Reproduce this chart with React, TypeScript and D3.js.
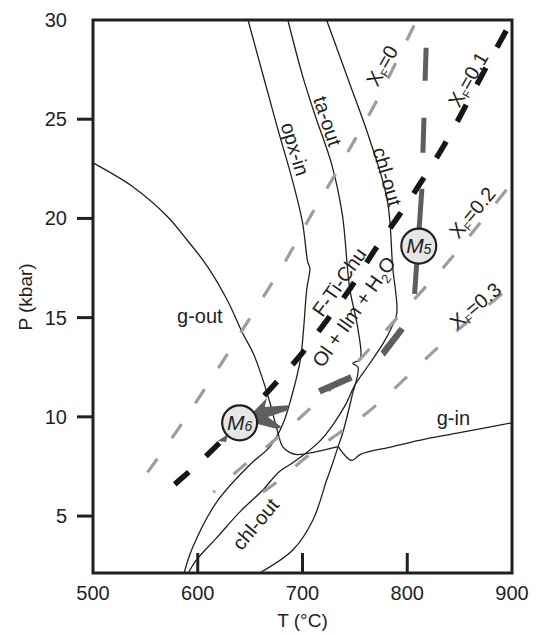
import React, { useEffect, useRef } from "react";
import * as d3 from "d3";

const width = 537;
const height = 633;
const font = "'Liberation Sans', Arial, Helvetica, sans-serif";

// axis ticks
const xTicks = [500, 600, 700, 800, 900];
const yTicks = [5, 10, 15, 20, 25, 30];

// phase boundaries as [T (°C), P (kbar)]
const gOut = [[500, 22.8], [538, 21.6], [571, 20.1], [590, 18.9], [609, 17.6], [628, 15.9], [643, 14.2], [653, 13.2], [662, 11.9], [669, 10.7], [676, 9.3], [681, 8.5], [688, 8.2], [695, 8.1], [734, 8.5]];
const gIn = [[734, 8.5], [747, 7.8], [755, 8.1], [786, 8.5], [819, 8.9], [850, 9.2], [900, 9.7]];
const opxIn = [[648, 30], [664, 26.9], [677, 24.4], [691, 21.8], [700, 19.8], [705, 17.8], [707, 17.5], [704, 16.4], [701, 14.4], [698, 12.9], [690, 11.1], [681, 9.6], [669, 8.5], [650, 7.6], [618, 5.7], [595, 3.4], [587, 2.13]];
const taOut = [[686, 30], [700, 27.2], [712, 25.2], [728, 22.7], [738, 20.2], [745, 16.5], [753, 14.4], [755, 12.9], [748, 12.7], [753, 12.5], [747, 11.0], [739, 9.3], [734, 8.5], [729, 7.7], [723, 6.8], [710, 4.8], [691, 3.3], [659, 2.13]];
const chlOut = [[723, 30], [745, 26.8], [764, 24.0], [781, 20.9], [786, 17.6], [790, 15.2], [785, 14.5], [777, 13.7], [763, 12.6], [750, 11.6], [741, 10.6], [729, 9.6], [717, 8.8], [704, 8.2], [691, 7.7], [677, 7.2], [662, 6.3], [640, 5.2], [618, 3.9], [599, 2.8], [591, 2.13]];

// X_F isopleths
const xf0 = [[552, 7.2], [578, 9.1], [599, 10.8], [623, 12.7], [644, 14.5], [667, 16.4], [688, 18.2], [707, 20.1], [728, 21.9], [748, 23.8], [768, 25.6], [787, 27.6], [809, 30]];
const xf01 = [[578, 6.6], [615, 8.3], [671, 11.5], [699, 13.1], [722, 14.8], [747, 16.5], [768, 18.4], [792, 20.1], [814, 21.9], [836, 23.7], [855, 25.6], [874, 27.5], [900, 30]];
const xf02 = [[615, 6.2], [640, 7.4], [671, 8.7], [701, 10.1], [731, 11.6], [759, 13.1], [785, 14.7], [817, 16.5], [846, 18.2], [870, 19.8], [900, 21.8]];
const xf03 = [[662, 6.2], [681, 6.9], [701, 7.9], [732, 9.1], [767, 10.3], [828, 13.5], [860, 14.9], [900, 16.6]];

// P-T path
const m5 = [811, 18.6];
const m6 = [640, 9.7];
const progradePath = [[818, 28.6], [815, 23.4], [814, 21.5], [807, 16.2]];
const retroPath = [[807, 16.2], [796, 14.5], [777, 13.2], [747, 12.0], [717, 11.3], [688, 10.5]];
const m6Arrow = [[653, 10.24], [666, 10.95], [664, 10.49], [686, 10.59], [687, 10.34], [667, 9.99], [680, 9.49], [676, 9.39], [657, 9.64]];
const m6Tip = [[619, 8.78], [629, 9.13], [627, 8.73]];

const labels = [
  { t: "g-out", T: 602, P: 15.08, r: 0 },
  { t: "g-in", T: 844, P: 9.94, r: 0 },
  { t: "opx-in", T: 693, P: 23.5, r: 73 },
  { t: "ta-out", T: 724, P: 24.9, r: 72 },
  { t: "chl-out", T: 781, P: 22.1, r: 74 },
  { t: "chl-out", T: 655, P: 4.6, r: -50 },
  { t: "F-Ti-Chu", T: 735, P: 16.8, r: -55 },
];
const xfLabels = [
  { v: "0", T: 776, P: 27.7, r: -60 },
  { v: "0.1", T: 858, P: 27.0, r: -60 },
  { v: "0.2", T: 862, P: 20.3, r: -50 },
  { v: "0.3", T: 865, P: 15.6, r: -40 },
];

function App() {
  const svgRef = useRef<SVGSVGElement>(null);

  useEffect(() => {
    const svg = d3.select(svgRef.current);
    svg.selectAll("*").remove();

    const x = d3.scaleLinear().domain([500, 900]).range([93, 512]);
    const y = d3.scaleLinear().domain([2.13, 30]).range([573, 20]);

    const smooth = d3.line<number[]>().x(d => x(d[0])).y(d => y(d[1])).curve(d3.curveCatmullRom.alpha(0.5));
    const basis = d3.line<number[]>().x(d => x(d[0])).y(d => y(d[1])).curve(d3.curveBasis);
    const straight = d3.line<number[]>().x(d => x(d[0])).y(d => y(d[1]));

    // thin black reaction lines
    [gOut, gIn, opxIn, taOut, chlOut].forEach(c => {
      svg.append("path").attr("d", smooth(c)).attr("fill", "none")
        .attr("stroke", "#231f20").attr("stroke-width", 1.3);
    });

    // grey isopleths
    [[xf0, 0], [xf02, 15], [xf03, 0]].forEach(([c, off]: any) => {
      svg.append("path").attr("d", basis(c)).attr("fill", "none")
        .attr("stroke", "#9d9d9d").attr("stroke-width", 3.2)
        .attr("stroke-dasharray", "17 25").attr("stroke-dashoffset", off);
    });
    // black X_F = 0.1
    svg.append("path").attr("d", basis(xf01)).attr("fill", "none")
      .attr("stroke", "#161616").attr("stroke-width", 5.5)
      .attr("stroke-dasharray", "19 23");

    // P-T path
    svg.append("path").attr("d", straight(progradePath)).attr("fill", "none")
      .attr("stroke", "#5e5e5e").attr("stroke-width", 5)
      .attr("stroke-dasharray", "33 37 35 36 400");
    svg.append("path").attr("d", straight(retroPath)).attr("fill", "none")
      .attr("stroke", "#5e5e5e").attr("stroke-width", 6.5)
      .attr("stroke-dasharray", "0 37 32 39 35 400");
    svg.append("path").attr("d", straight(m6Arrow) + "Z").attr("fill", "#5e5e5e");
    svg.append("path").attr("d", straight(m6Tip) + "Z").attr("fill", "#5e5e5e");

    [[m5, "5"], [m6, "6"]].forEach(([p, s]: any) => {
      const g = svg.append("g").attr("transform", `translate(${x(p[0])},${y(p[1])})`);
      g.append("circle").attr("r", 17.5).attr("fill", "#e6e6e6")
        .attr("stroke", "#231f20").attr("stroke-width", 2.2);
      const t = g.append("text").attr("text-anchor", "middle").attr("y", 7)
        .attr("font-family", font).attr("font-style", "italic").attr("fill", "#231f20");
      t.append("tspan").attr("font-size", 21).text("M");
      t.append("tspan").attr("font-size", 14).attr("dy", 1).text(s);
    });

    // labels
    labels.forEach(l => {
      svg.append("text")
        .attr("transform", `translate(${x(l.T)},${y(l.P)}) rotate(${l.r})`)
        .attr("text-anchor", "middle").attr("dy", "0.35em")
        .attr("font-family", font).attr("font-size", 20).attr("fill", "#231f20")
        .text(l.t);
    });
    const ol = svg.append("text")
      .attr("transform", `translate(${x(749)},${y(15.3)}) rotate(-55)`)
      .attr("text-anchor", "middle").attr("dy", "0.35em")
      .attr("font-family", font).attr("font-size", 20).attr("fill", "#231f20");
    ol.append("tspan").text("Ol + Ilm + H");
    ol.append("tspan").attr("font-size", 13).attr("dy", 5).text("2");
    ol.append("tspan").attr("dy", -5).text("O");

    xfLabels.forEach(l => {
      const t = svg.append("text")
        .attr("transform", `translate(${x(l.T)},${y(l.P)}) rotate(${l.r})`)
        .attr("text-anchor", "middle").attr("dy", "0.35em")
        .attr("font-family", font).attr("font-size", 20).attr("fill", "#231f20");
      t.append("tspan").text("X");
      t.append("tspan").attr("font-size", 11).attr("dy", 3).text("F");
      t.append("tspan").attr("dy", -3).text("=" + l.v);
    });

    // frame and ticks
    svg.append("rect").attr("x", x(500)).attr("y", y(30))
      .attr("width", x(900) - x(500)).attr("height", y(2.13) - y(30))
      .attr("fill", "none").attr("stroke", "#231f20").attr("stroke-width", 3);

    yTicks.forEach(v => {
      if (v < 30) {
        svg.append("line").attr("x1", x(500) - 16).attr("x2", x(500))
          .attr("y1", y(v)).attr("y2", y(v)).attr("stroke", "#231f20").attr("stroke-width", 3);
      }
      svg.append("text").attr("x", 67).attr("y", y(v)).attr("dy", "0.35em")
        .attr("text-anchor", "end").attr("font-family", font).attr("font-size", 20)
        .attr("fill", "#231f20").text(v);
    });
    xTicks.forEach(v => {
      if (v > 500 && v < 900) {
        svg.append("line").attr("x1", x(v)).attr("x2", x(v))
          .attr("y1", y(2.13)).attr("y2", y(2.13) - 20).attr("stroke", "#231f20").attr("stroke-width", 3);
      }
      svg.append("text").attr("x", x(v)).attr("y", 600)
        .attr("text-anchor", "middle").attr("font-family", font).attr("font-size", 20)
        .attr("fill", "#231f20").text(v);
    });

    svg.append("text").attr("transform", "translate(32,297) rotate(-90)")
      .attr("text-anchor", "middle").attr("font-family", font).attr("font-size", 19)
      .attr("fill", "#231f20").text("P (kbar)");
    svg.append("text").attr("x", (x(500) + x(900)) / 2).attr("y", 627)
      .attr("text-anchor", "middle").attr("font-family", font).attr("font-size", 19)
      .attr("fill", "#231f20").text("T (°C)");
  }, []);

  return (
    <svg ref={svgRef} width={width} height={height}
      style={{ position: "absolute", left: 0, top: 0, background: "#fff" }} />
  );
}

export default App;
